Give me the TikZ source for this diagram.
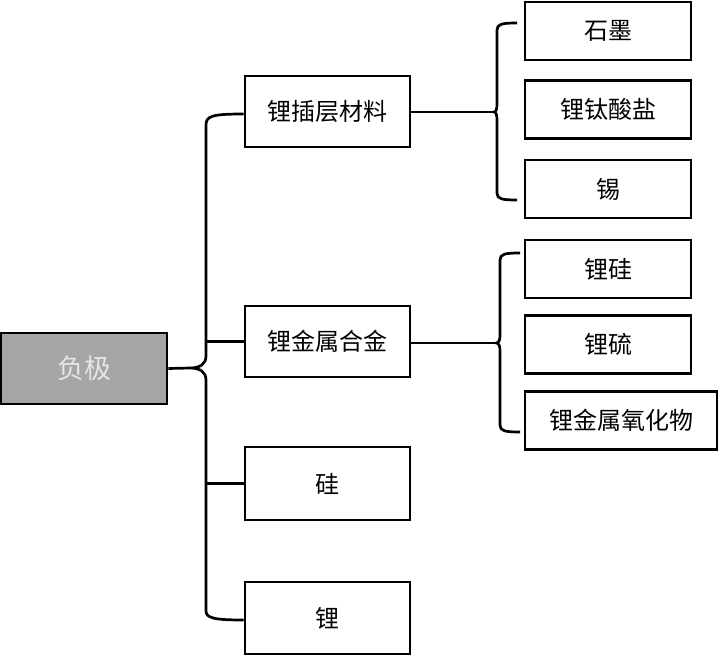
\documentclass[tikz,border=0pt]{standalone}
\usepackage{fontspec}
\setmainfont{Noto Sans CJK SC}
\begin{document}
\begin{tikzpicture}[x=1pt,y=-1pt,
  box/.style={draw=black,line width=2.8pt,fill=white,minimum width=165pt,minimum height=71pt,inner sep=0pt,font=\fontsize{24}{28}\selectfont},
  leaf/.style={box,minimum width=166pt,minimum height=58pt},
  conn/.style={line width=2.7pt,line join=round}]
\useasboundingbox (0,0) rectangle (719,655);
\node[box,fill=black!35,text=white!90!black,minimum width=166pt,font=\fontsize{27}{30}\selectfont] (root) at (84,368.5) {负极};
\node[box] (m1) at (327.5,111.5) {锂插层材料};
\node[box] (m2) at (327.5,341.5) {锂金属合金};
\node[box,minimum height=73pt] (m3) at (327.5,483.5) {硅};
\node[box,minimum height=72pt] (m4) at (327.5,618) {锂};
\node[leaf] (l1) at (608,31) {石墨};
\node[leaf] (l2) at (608,109.5) {锂钛酸盐};
\node[leaf] (l3) at (608,189) {锡};
\node[leaf] (l4) at (608,269) {锂硅};
\node[leaf] (l5) at (608,344.5) {锂硫};
\node[leaf,minimum width=192pt] (l6) at (621,420.5) {锂金属氧化物};
% left brace
\coordinate (lt) at (190,368);
\coordinate (lx) at (206,0);
\draw[conn] (root.east) -- (lt);
\draw[conn] (m1.west |- 0,114) .. controls (212,114) and (206,116) .. (206,125) -- (206,356)
  .. controls (206,364) and (200,368) .. (lt)
  .. controls (200,368) and (206,372) .. (206,380) -- (206,611)
  .. controls (206,618) and (214,620) .. (m4.west |- 0,620);
\draw[conn] (lx |- m2.west) -- (m2.west);
\draw[conn] (lx |- m3.west) -- (m3.west);
% right brace 1
\coordinate (r1) at (494,112);
\draw[conn] (m1.east |- r1) -- (r1);
\draw[conn] (517,23) .. controls (502,23) and (497,24) .. (497,30) -- (497,104)
  .. controls (497,109) and (496,112) .. (r1)
  .. controls (496,112) and (497,115) .. (497,120) -- (497,193)
  .. controls (497,199) and (502,200) .. (517,200);
% right brace 2
\coordinate (r2) at (496,343);
\draw[conn] (m2.east |- r2) -- (r2);
\draw[conn] (520,253) .. controls (505,253) and (500,254) .. (500,260) -- (500,335)
  .. controls (500,340) and (499,343) .. (r2)
  .. controls (499,343) and (500,346) .. (500,351) -- (500,425)
  .. controls (500,431) and (505,432) .. (520,432);
\end{tikzpicture}
\end{document}
